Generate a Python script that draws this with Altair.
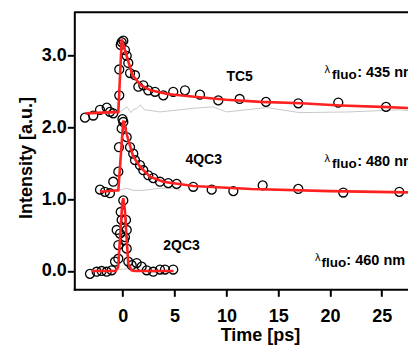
import altair as alt
import pandas as pd

FONT = "Liberation Sans, Arial, Helvetica, sans-serif"

# ---- measured data points (open circles) ----
tc5_t = [-3.65, -2.85, -2.20, -1.55, -1.24, -0.92, -0.34, -0.34, -0.20, -0.11, 0.05, 0.21, 0.38, 0.53,
         0.70, 1.18, 1.50, 1.98, 2.46, 3.11, 3.91, 4.87, 6.00, 7.45, 9.22, 11.28, 13.82, 16.94, 20.80, 25.41]
tc5_i = [2.13, 2.16, 2.24, 2.27, 2.21, 2.19, 2.44, 2.80, 3.14, 3.18, 3.20, 3.07, 2.99, 2.89,
         2.75, 2.72, 2.56, 2.58, 2.51, 2.49, 2.44, 2.49, 2.51, 2.45, 2.37, 2.39, 2.35, 2.33, 2.34, 2.28]

q4_t = [-2.20, -1.72, -1.24, -0.92, -0.43, -0.37, -0.11, -0.03, 0.05, 0.38, 0.70, 1.01, 1.18, 1.66,
        1.98, 2.46, 2.94, 3.59, 4.39, 5.20, 6.80, 8.58, 10.67, 13.50, 16.94, 21.28, 26.69]
q4_i = [1.13, 1.10, 1.08, 1.24, 1.38, 1.72, 1.98, 2.11, 2.07, 1.86, 1.72, 1.63, 1.54, 1.47,
        1.40, 1.33, 1.29, 1.24, 1.22, 1.21, 1.17, 1.13, 1.11, 1.19, 1.14, 1.09, 1.10]

q2_t = [-3.17, -2.52, -2.04, -1.55, -1.07, -0.75, -0.59, -0.43, -0.43, -0.27, -0.20, -0.11, 0.05,
        0.12, 0.21, 0.31, 0.38, 0.38, 0.53, 0.86, 1.34, 1.82, 2.31, 2.94, 3.59, 4.07, 4.87]
q2_i = [-0.04, -0.01, 0.00, -0.01, 0.01, 0.13, 0.57, 0.36, 0.17, 0.52, 0.82, 0.71, 0.98,
        0.43, 0.47, 0.71, 0.31, 0.57, 0.13, 0.08, 0.11, 0.06, 0.01, -0.01, 0.02, 0.02, 0.02]

# ---- fit curves (red) ----
tc5_fit_t = [-3.6, -0.43, -0.10, 0.45, 0.93, 1.74, 2.70, 4.30, 6.90, 10.0, 13.3, 17.2, 21.0, 25.0, 28.3]
tc5_fit_i = [2.19, 2.21, 3.22, 2.95, 2.72, 2.58, 2.51, 2.46, 2.42, 2.38, 2.35, 2.33, 2.30, 2.28, 2.26]

q4_fit_t = [-2.2, -0.43, 0.05, 0.53, 1.01, 1.66, 2.62, 3.90, 6.80, 12.4, 20.0, 28.3]
q4_fit_i = [1.10, 1.12, 2.09, 1.82, 1.59, 1.45, 1.31, 1.24, 1.18, 1.14, 1.11, 1.09]

q2_fit_t = [-3.0, -0.70, -0.45, -0.25, -0.05, 0.05, 0.20, 0.35, 0.53, 0.86, 1.20, 4.9]
q2_fit_i = [0.00, 0.00, 0.05, 0.50, 0.95, 1.01, 0.85, 0.50, 0.10, 0.01, 0.00, 0.00]

# ---- instrument / reference traces (light gray) ----
tc5_g_t = [-0.5, 0.4, 0.8, 1.0, 1.4, 1.7, 2.1, 3.6, 6.8, 8.7, 10.0, 13.9, 17.1, 21.9, 26.7, 28.3]
tc5_g_i = [2.19, 2.28, 2.20, 2.24, 2.26, 2.31, 2.24, 2.21, 2.26, 2.28, 2.21, 2.27, 2.20, 2.21, 2.24, 2.22]

q4_g_t = [-0.6, 0.38, 1.0, 2.0, 3.6, 4.9, 5.5]
q4_g_i = [1.11, 1.15, 1.12, 1.12, 1.15, 1.15, 1.12]

q2_g_t = [-0.5, 0.5, 1.0, 2.0, 3.0, 4.0]
q2_g_i = [0.02, 0.03, -0.01, 0.02, -0.02, 0.01]

# ---- annotations ----
series_names = ["TC5", "4QC3", "2QC3"]
name_x = [11.28, 7.81, 5.67]
name_y = [2.691, 1.539, 0.341]

lam_x = [19.47, 19.47, 18.55]
lam_y = [2.747, 1.516, 0.139]
fluo_x = [20.19, 20.19, 19.18]
fluo_y = [2.666, 1.435, 0.058]
val_x = [22.62, 22.62, 21.58]
val_y = [2.694, 1.463, 0.086]
val_text = [": 435 nm", ": 480 nm", ": 460 nm"]


def frame(ts, vals, name):
    return pd.DataFrame({"t": ts, "I": vals, "s": name})


pts = pd.concat([frame(tc5_t, tc5_i, "TC5"), frame(q4_t, q4_i, "4QC3"), frame(q2_t, q2_i, "2QC3")])
fit = pd.concat([frame(tc5_fit_t, tc5_fit_i, "TC5"), frame(q4_fit_t, q4_fit_i, "4QC3"),
                 frame(q2_fit_t, q2_fit_i, "2QC3")])
gray = pd.concat([frame(tc5_g_t, tc5_g_i, "TC5"), frame(q4_g_t, q4_g_i, "4QC3"),
                  frame(q2_g_t, q2_g_i, "2QC3")])
names = pd.DataFrame({"t": name_x, "I": name_y, "txt": series_names})
lam = pd.DataFrame({"t": lam_x, "I": lam_y, "txt": ["λ"] * 3})
fluo = pd.DataFrame({"t": fluo_x, "I": fluo_y, "txt": ["fluo"] * 3})
vals = pd.DataFrame({"t": val_x, "I": val_y, "txt": val_text})

W = 333.7
H = 277

xs = alt.Scale(domain=[-4.68, 27.53], nice=False, zero=False)
ys = alt.Scale(domain=[-0.2545, 3.594], nice=False, zero=False)

x_axis = alt.Axis(values=[0, 5, 10, 15, 20, 25], title="Time [ps]", grid=False,
                  domainColor="black", domainWidth=2, domainCap="square",
                  tickColor="black", tickWidth=2, tickSize=7,
                  labelFont=FONT, labelFontSize=18, labelFontWeight="bold", labelColor="black",
                  labelPadding=11, labelFlush=False,
                  titleFont=FONT, titleFontSize=18, titleFontWeight="bold", titleColor="black",
                  titleX=185.7, titleY=51, titleBaseline="alphabetic", titleAlign="center")
y_axis = alt.Axis(values=[0, 1, 2, 3], format=".1f", title="Intensity [a.u.]", grid=False,
                  domainColor="black", domainWidth=2, domainCap="square",
                  tickColor="black", tickWidth=2, tickSize=7,
                  labelFont=FONT, labelFontSize=18, labelFontWeight="bold", labelColor="black",
                  labelPadding=1, labelFlush=False,
                  titleFont=FONT, titleFontSize=18, titleFontWeight="bold", titleColor="black",
                  titleAngle=270, titleX=-42.6, titleY=145.2, titleBaseline="alphabetic",
                  titleAlign="center")

X = alt.X("t:Q", scale=xs, axis=x_axis)
Y = alt.Y("I:Q", scale=ys, axis=y_axis)

top_border = alt.Chart(pd.DataFrame({"a": [0]})).mark_rule(color="black", strokeWidth=2).encode(
    x=alt.value(0), x2=alt.value(W + 20), y=alt.value(0))

gray_l = alt.Chart(gray).mark_line(color="#c8c8c8", strokeWidth=1, clip=True).encode(
    x=X, y=Y, detail="s:N")
circ = alt.Chart(pts).mark_point(shape="circle", size=80, filled=False, color="black",
                                  strokeWidth=1.3, opacity=1).encode(x=X, y=Y)
red = alt.Chart(fit).mark_line(color="#ff2020", strokeWidth=2.6, clip=True).encode(
    x=X, y=Y, detail="s:N")

name_t = alt.Chart(names).mark_text(font=FONT, fontSize=14, fontWeight="bold", color="black",
                                    align="center", baseline="middle").encode(x=X, y=Y, text="txt:N")
lam_t = alt.Chart(lam).mark_text(font=FONT, fontSize=11, color="black",
                                 align="left", baseline="alphabetic").encode(x=X, y=Y, text="txt:N")
fluo_t = alt.Chart(fluo).mark_text(font=FONT, fontSize=13.5, fontWeight="bold", color="black",
                                   align="left", baseline="alphabetic").encode(x=X, y=Y, text="txt:N")
val_t = alt.Chart(vals).mark_text(font=FONT, fontSize=14.5, fontWeight="bold", color="black",
                                  align="left", baseline="alphabetic").encode(x=X, y=Y, text="txt:N")

chart = alt.layer(gray_l, circ, red, name_t, lam_t, fluo_t, val_t, top_border).properties(
    width=W, height=H,
    autosize=alt.AutoSizeParams(type="none"),
    padding={"left": 66.3, "top": 4.3, "right": 0, "bottom": 58},
).configure_view(strokeWidth=0)

chart.save("out.html", embed_options={"renderer": "svg", "actions": False})
